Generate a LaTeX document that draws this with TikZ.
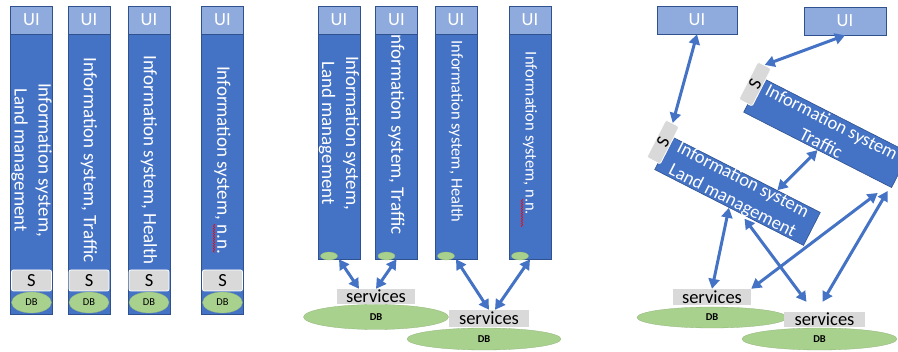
\documentclass[tikz,border=0pt]{standalone}
\usepackage{fontspec}
\setmainfont{Carlito}
\usetikzlibrary{calc,shapes.geometric,arrows.meta,decorations.pathmorphing}
\definecolor{isclr}{HTML}{4472C4}
\definecolor{edgeclr}{HTML}{2F528F}
\definecolor{uiclr}{HTML}{8FAADC}
\definecolor{svcclr}{HTML}{D9D9D9}
\definecolor{dbclr}{HTML}{A9D18E}
\tikzset{ %
  ,>={Triangle[length=10pt,width=11pt]}
  ,every node/.style={font=\fontsize{18.5}{23.5}\selectfont}
  ,system/.style={draw=edgeclr, fill=isclr, line width=0.6pt, inner sep=0, minimum width=42pt}
  ,uibox/.style={draw=edgeclr, fill=uiclr, line width=0.6pt, text=white, inner sep=0, minimum width=42pt, minimum height=28pt}
  ,istext/.style={text=white, align=center, inner sep=0}
  ,sbox/.style={draw=white, fill=svcclr, rounded corners=2pt, line width=0.8pt, inner sep=0, minimum width=40pt, minimum height=21pt}
  ,db/.style={ellipse, draw=dbclr!85!black, line width=0.3pt, fill=dbclr, inner sep=0, font=\fontsize{10.5}{12}\selectfont}
  ,bigdb/.style={db, font=\fontsize{10.5}{12}\selectfont\bfseries}
  ,svc/.style={fill=svcclr, inner sep=0}
  ,link/.style={<->, draw=isclr, line width=3pt}
  ,spell/.style={draw=red, line width=0.5pt, decorate, decoration={snake, amplitude=0.8pt, segment length=2.5pt}}
}
\begin{document}
\begin{tikzpicture}[x=1pt, y=-1pt]
  \useasboundingbox (0,0) rectangle (898,352);
  \clip (0,0) rectangle (898,352);

  % one system, one column
  \foreach \i/\x/\txt in {1/31.5/{Information system,\\Land management}, 2/89/{Information system, Traffic}, 3/149/{Information system, Health}, 4/222.5/{Information system, n.n.}}{
    \node[system, minimum height=308pt] (l\i) at (\x,160) {};
    \node[istext, rotate=-90, font=\fontsize{19}{24}\selectfont] (lt\i) at (l\i) {\txt};
    \node[uibox, anchor=north] (lui\i) at (l\i.north) {UI};
    \node[sbox] (ls\i) at (\x,280.5) {S};
    \node[db, minimum width=40pt, minimum height=21pt] (ldb\i) at (\x,302.5) {DB};
  }
  \draw[spell] (214,224) -- (214,253);

  % shared services
  \foreach \i/\x/\y/\fs/\txt in {1/339/133/19/{Information system,\\Land management}, 2/396.5/132/19/{Information system, Traffic}, 3/456/131.5/16.5/{Information system, Health}, 4/530/133.5/16.5/{Information system, n.n.}}{
    \node[system, minimum height=253pt] (m\i) at (\x,132.5) {};
    \node[istext, rotate=-90, font=\fontsize{\fs}{24}\selectfont] (mt\i) at (\x,\y) {\txt};
    \node[uibox, anchor=north] (mui\i) at (m\i.north) {UI};
    \node[db, minimum width=17pt, minimum height=8pt] (mdb\i) at (\x-10,256) {};
  }
  \draw[spell] (522,199) -- (522,227);
  \node[bigdb, minimum width=145pt, minimum height=25pt] (mdbA) at (376,317) {DB};
  \node[svc, minimum width=78pt, minimum height=15pt] (msvc1) at (376,296.5) {services};
  \node[bigdb, minimum width=154pt, minimum height=22pt] (mdbB) at (484,339) {DB};
  \node[svc, minimum width=80pt, minimum height=17pt] (msvc2) at (489,318.5) {services};
  \draw[link] (m1.south) -- ($(msvc1.north)+(-17,0)$);
  \draw[link] (m2.south) -- (msvc1.north);
  \draw[link] (m3.south) -- (msvc2.north);
  \draw[link] (m4.south) -- ($(msvc2.north)+(6,0)$);

  % loose systems
  \node[uibox, minimum width=80pt] (rui1) at (697,20) {UI};
  \node[uibox, minimum width=82pt] (rui2) at (845,21) {UI};
  \node[system, rotate=-27, minimum width=166pt, minimum height=39pt] (traffic) at (826.5,132.5) {};
  \node[istext, rotate=-27] (traffict) at (traffic) {Information system\\Traffic};
  \node[sbox, rotate=63, minimum width=42pt, minimum height=15pt] (traffics) at (755,84) {S};
  \node[system, rotate=-27, minimum width=167pt, minimum height=37pt] (land) at (737.5,191) {};
  \node[istext, rotate=-27] (landt) at (land) {Information system\\Land management};
  \node[sbox, rotate=63, minimum width=42pt, minimum height=15pt] (lands) at (663,142) {S};
  \node[bigdb, minimum width=150pt, minimum height=21pt] (rdbA) at (712,317.5) {DB};
  \node[svc, minimum width=78pt, minimum height=16pt] (rsvc1) at (712,297) {services};
  \node[bigdb, minimum width=155pt, minimum height=22pt] (rdbB) at (819.5,339) {DB};
  \node[svc, minimum width=81pt, minimum height=15pt] (rsvc2) at (824.5,319.5) {services};
  \draw[link] (rui1.south) -- (lands.east);
  \draw[link] (rui2.south) -- (traffics.east);
  \draw[link] (traffic.south) -- ($(land.north west)!0.71!(land.north east)$);
  \draw[link] (land.south) -- (rsvc1.north);
  \draw[link, shorten <=6pt] ($(land.south west)!0.58!(land.south east)$) -- ($(rsvc2.north)+(-18,-10)$);
  \draw[link] (rsvc1.north east) -- ($(traffic.south east)+(-14,5)$);
  \draw[link] ($(rsvc2.north)+(-2,-10)$) -- ($(traffic.south east)+(-4,3)$);
\end{tikzpicture}
\end{document}
